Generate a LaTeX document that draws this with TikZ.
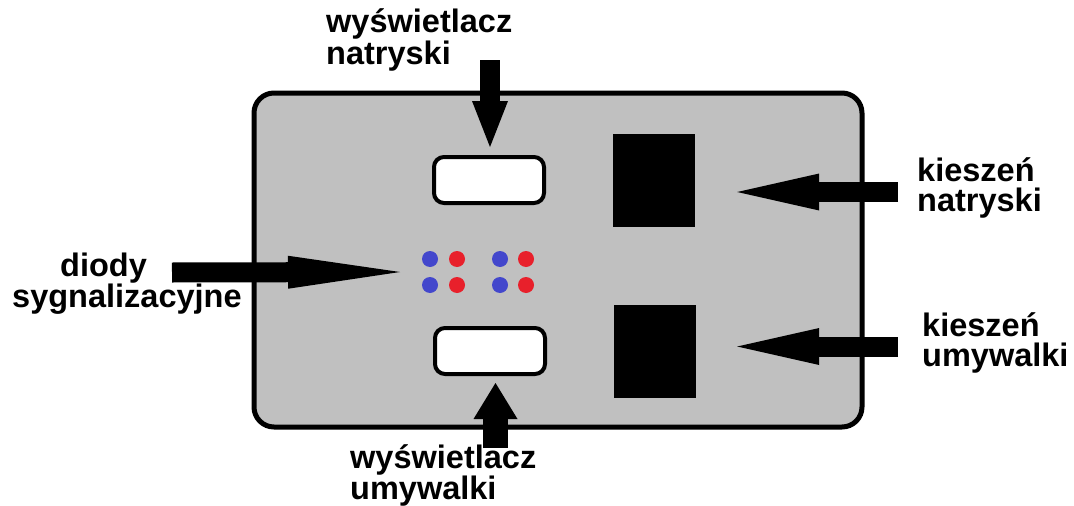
\documentclass[tikz,border=0pt]{standalone}
\usepackage{fontspec}
\setmainfont{Liberation Sans}
\usepackage{tikz}
\usetikzlibrary{arrows.meta}

\definecolor{panelgray}{HTML}{C0C0C0}
\definecolor{ledblue}{HTML}{4347CC}
\definecolor{ledred}{HTML}{E8202B}

\begin{document}
\begin{tikzpicture}[x=1pt, y=-1pt,
    label/.style={font=\bfseries\fontsize{32.5}{30}\selectfont, inner sep=0pt, align=left, anchor=west},
    display/.style={draw, line width=4pt, fill=white, rounded corners=10pt, minimum width=110pt, minimum height=46pt},
    pocket/.style={fill=black, minimum width=82pt, minimum height=93pt},
    blockarrow/.style={line width=20pt, -{Triangle[length=46pt, width=36pt, line width=0pt]}}]
    \useasboundingbox (0,0) rectangle (1074,506);

    % Control panel
    \node[draw, line width=5pt, fill=panelgray, rounded corners=20pt,
          minimum width=608pt, minimum height=334pt] (panel) at (558,260) {};

    % Displays
    \node[display] (dispN) at (489,180) {};
    \node[display] (dispU) at (490,351) {};

    % Pockets
    \node[pocket] (pocketN) at (654,180.5) {};
    \node[pocket] (pocketU) at (655,351.5) {};

    % Signal diodes
    \foreach \x/\c [count=\i] in {430/ledblue, 457/ledred, 500/ledblue, 526/ledred} {
        \fill[\c] (\x,259) circle (8) coordinate (ledA\i);
        \fill[\c] (\x,285) circle (8) coordinate (ledB\i);
    }
    \coordinate (leds) at (400,272);

    % Labels
    \node[label] (lblDispN) at (326,40) {wyświetlacz\\natryski};
    \node[label, font=\bfseries\fontsize{32.5}{28.5}\selectfont] (lblDispU) at (350,475.5) {wyświetlacz\\umywalki};
    \node[label] (lblLeds) at (12,284) {\hspace*{48pt}diody\\sygnalizacyjne};
    \node[label] (lblPocketN) at (917,188) {kieszeń\\natryski};
    \node[label] (lblPocketU) at (922,343) {kieszeń\\umywalki};

    % Arrow tails
    \coordinate (tailDispN) at (490,60);
    \coordinate (tailDispU) at (495.5,448);
    \coordinate (tailLeds) at (172,272.5);
    \coordinate (tailPocketN) at (898,192);
    \coordinate (tailPocketU) at (898,346.5);

    % Arrows
    \draw[blockarrow, shorten >=8pt] (tailDispN) -- (tailDispN |- dispN.north);
    \draw[blockarrow, line width=25pt, -{Triangle[length=36pt, width=44pt, line width=0pt]}, shorten >=7pt]
        (tailDispU) -- (tailDispU |- dispU.south);
    \draw[blockarrow, -{Triangle[length=112pt, width=33pt, line width=0pt]}] (tailLeds) -- (leds);
    \draw[blockarrow, -{Triangle[length=82pt, width=37pt, line width=0pt]}, shorten >=42pt]
        (tailPocketN) -- (tailPocketN -| pocketN.east);
    \draw[blockarrow, -{Triangle[length=82pt, width=37pt, line width=0pt]}, shorten >=41pt]
        (tailPocketU) -- (tailPocketU -| pocketU.east);
\end{tikzpicture}
\end{document}
